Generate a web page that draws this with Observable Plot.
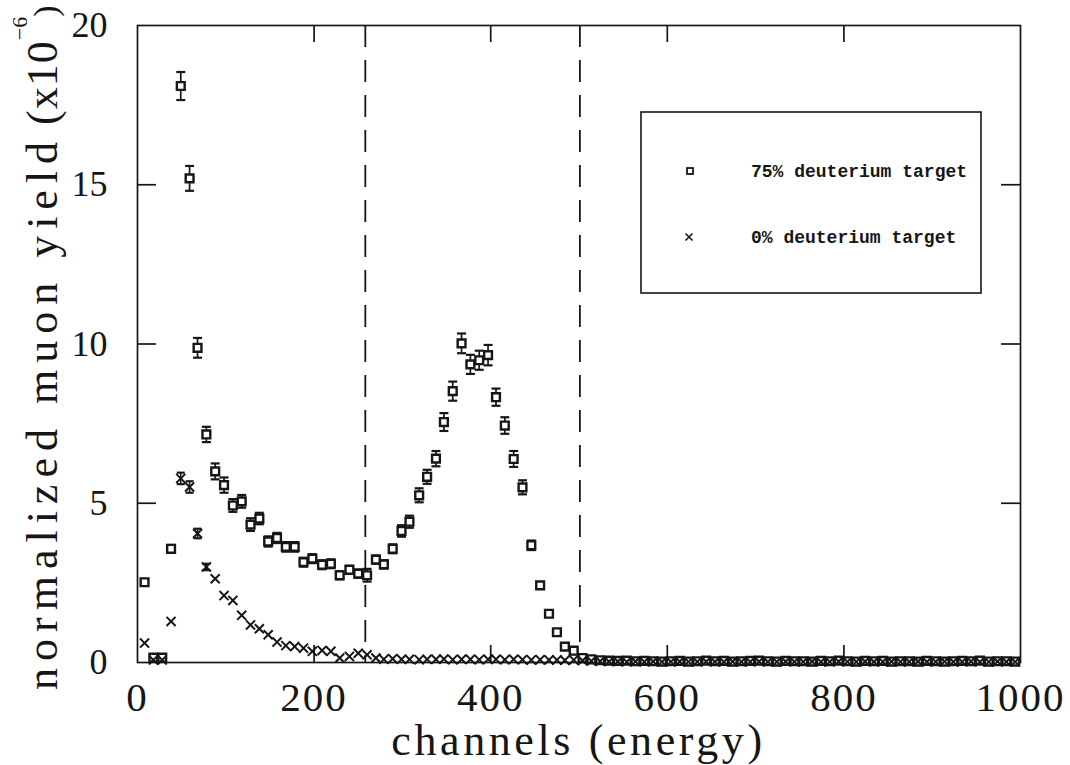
<!DOCTYPE html>
<html>
<head>
<meta charset="utf-8">
<script src="https://cdn.jsdelivr.net/npm/d3@7"></script>
<script src="https://cdn.jsdelivr.net/npm/@observablehq/plot@0.6"></script>
<style>
html, body { margin: 0; padding: 0; background: #fff; }
svg { display: block; }
</style>
</head>
<body>
<div id="chart"></div>
<script>
// ---- data ----
const channels = [
  8, 18, 28, 38, 49, 59, 68, 78, 88, 98,
  108, 118, 128, 138, 148, 158, 168, 178, 188, 198,
  209, 219, 229, 240, 250, 260, 270, 279, 289, 299,
  308, 319, 328, 338, 347, 357, 367, 377, 387, 397,
  406, 416, 426, 436, 446, 456, 466, 475, 484, 494,
  504, 514, 524, 534, 544, 554, 564, 574, 584, 594,
  604, 614, 624, 634, 644, 654, 664, 674, 684, 694,
  704, 714, 724, 734, 744, 754, 764, 774, 784, 794,
  804, 814, 824, 834, 844, 854, 864, 874, 884, 894,
  904, 914, 924, 934, 944, 954, 964, 974, 984, 994
];
const yield75 = [
  2.52, 0.15, 0.15, 3.57, 18.1, 15.2, 9.88, 7.16, 6.0, 5.57,
  4.93, 5.06, 4.33, 4.52, 3.8, 3.91, 3.63, 3.63, 3.15, 3.26,
  3.07, 3.1, 2.74, 2.91, 2.79, 2.74, 3.23, 3.08, 3.57, 4.13,
  4.42, 5.25, 5.83, 6.4, 7.55, 8.52, 10.02, 9.36, 9.49, 9.65,
  8.33, 7.44, 6.39, 5.5, 3.68, 2.42, 1.53, 0.95, 0.5, 0.37,
  0.14, 0.1, 0.07, 0.06, 0.05, 0.06, 0.04, 0.05, 0.04, 0.03,
  0.04, 0.05, 0.03, 0.04, 0.06, 0.04, 0.05, 0.03, 0.04, 0.05,
  0.06, 0.04, 0.03, 0.05, 0.04, 0.04, 0.03, 0.05, 0.04, 0.06,
  0.04, 0.03, 0.05, 0.04, 0.05, 0.03, 0.04, 0.04, 0.03, 0.05,
  0.04, 0.03, 0.04, 0.05, 0.04, 0.06, 0.03, 0.04, 0.04, 0.03
];
const err75 = [
  0.1, 0.05, 0.05, 0.12, 0.44, 0.39, 0.31, 0.24, 0.25, 0.24,
  0.2, 0.2, 0.2, 0.18, 0.16, 0.16, 0.15, 0.15, 0.14, 0.14,
  0.14, 0.14, 0.13, 0.13, 0.13, 0.2, 0.13, 0.13, 0.14, 0.18,
  0.19, 0.22, 0.22, 0.24, 0.28, 0.3, 0.31, 0.3, 0.3, 0.32,
  0.27, 0.26, 0.25, 0.22, 0.15, 0.1, 0.08, 0.06, 0.05, 0.05,
  0, 0, 0, 0, 0, 0, 0, 0, 0, 0,
  0, 0, 0, 0, 0, 0, 0, 0, 0, 0,
  0, 0, 0, 0, 0, 0, 0, 0, 0, 0,
  0, 0, 0, 0, 0, 0, 0, 0, 0, 0,
  0, 0, 0, 0, 0, 0, 0, 0, 0, 0
];
const yield0 = [
  0.61, 0.08, 0.08, 1.29, 5.78, 5.51, 4.05, 3.0, 2.63, 2.1,
  1.95, 1.48, 1.18, 1.06, 0.87, 0.64, 0.53, 0.5, 0.45, 0.35,
  0.38, 0.35, 0.14, 0.19, 0.29, 0.24, 0.14, 0.1, 0.12, 0.1,
  0.1, 0.09, 0.1, 0.1, 0.11, 0.09, 0.1, 0.1, 0.09, 0.1,
  0.1, 0.09, 0.1, 0.09, 0.08, 0.09, 0.08, 0.08, 0.07, 0.08,
  0.06, 0.05, 0.04, 0.03, 0.03, 0.02, 0.03, 0.02, 0.03, 0.02,
  0.02, 0.03, 0.02, 0.02, 0.03, 0.02, 0.02, 0.03, 0.02, 0.02,
  0.03, 0.02, 0.02, 0.03, 0.02, 0.02, 0.03, 0.02, 0.02, 0.03,
  0.02, 0.02, 0.03, 0.02, 0.02, 0.03, 0.02, 0.02, 0.03, 0.02,
  0.02, 0.03, 0.02, 0.02, 0.03, 0.02, 0.02, 0.03, 0.02, 0.02
];
const err0 = [
  0, 0, 0, 0, 0.18, 0.18, 0.15, 0.1, 0, 0,
  0, 0, 0, 0, 0, 0, 0, 0, 0, 0,
  0, 0, 0, 0, 0, 0, 0, 0, 0, 0,
  0, 0, 0, 0, 0, 0, 0, 0, 0, 0,
  0, 0, 0, 0, 0, 0, 0, 0, 0, 0,
  0, 0, 0, 0, 0, 0, 0, 0, 0, 0,
  0, 0, 0, 0, 0, 0, 0, 0, 0, 0,
  0, 0, 0, 0, 0, 0, 0, 0, 0, 0,
  0, 0, 0, 0, 0, 0, 0, 0, 0, 0,
  0, 0, 0, 0, 0, 0, 0, 0, 0, 0
];
const windowEdges = [258, 501];
const xTicks = [0, 200, 400, 600, 800, 1000];
const xInnerTicks = [200, 400, 600, 800];
const yTicks = [0, 5, 10, 15, 20];
const yInnerTicks = [5, 10, 15];
const seriesNames = ["75% deuterium target", "0% deuterium target"];
const xTitle = "channels (energy)";
const yTitle = "normalized muon yield";
const yUnitOpen = "(x10";
const yUnitExp = "\u22126";
const yUnitClose = ")";

// ---- build ----
const xDomain = [0, 1000], yDomain = [0, 20];
const W = 1070, H = 765, ML = 137, MR = 50, MT = 25, MB = 103;
const ink = "#161616";
const serif = "'Liberation Serif', 'Times New Roman', serif";
const mono = "'Liberation Mono', 'DejaVu Sans Mono', monospace";

const d75 = channels.map((x, i) => ({x, y: yield75[i], e: err75[i]}));
const d0 = channels.map((x, i) => ({x, y: yield0[i], e: err0[i]}));
const e75 = d75.filter(d => d.e > 0);
const e0 = d0.filter(d => d.e > 0);

// inward tick marks: lengths given in pixels, converted to data units
const xUnitsPerPx = (xDomain[1] - xDomain[0]) / (W - ML - MR);
const yUnitsPerPx = (yDomain[1] - yDomain[0]) / (H - MT - MB);
const tickPxX = 17, tickPxY = 19;
const xTickMarks = xInnerTicks.flatMap(x => [
  {x, a: yDomain[0], b: yDomain[0] + tickPxX * yUnitsPerPx},
  {x, a: yDomain[1], b: yDomain[1] - tickPxX * yUnitsPerPx}
]);
const yTickMarks = yInnerTicks.flatMap(y => [
  {y, a: xDomain[0], b: xDomain[0] + tickPxY * xUnitsPerPx},
  {y, a: xDomain[1], b: xDomain[1] - tickPxY * xUnitsPerPx}
]);

const cap = {draw(ctx, size) { const r = Math.sqrt(size / Math.PI); ctx.moveTo(-r, 0); ctx.lineTo(r, 0); }};

const chart = Plot.plot({
  width: W, height: H,
  marginLeft: ML, marginRight: MR, marginTop: MT, marginBottom: MB,
  x: {domain: xDomain},
  y: {domain: yDomain},
  style: {background: "#fff", color: ink, overflow: "visible"},
  marks: [
    Plot.ruleX(windowEdges, {stroke: ink, strokeWidth: 1.8, strokeDasharray: "22,13"}),
    Plot.ruleX(xTickMarks, {x: "x", y1: "a", y2: "b", stroke: ink, strokeWidth: 1.7}),
    Plot.ruleY(yTickMarks, {y: "y", x1: "a", x2: "b", stroke: ink, strokeWidth: 1.7}),
    Plot.axisX({anchor: "bottom", ticks: xTicks, tickSize: 0, tickPadding: 19, tickFormat: d => String(d), fontSize: 41, fontFamily: serif, label: null}),
    Plot.axisY({anchor: "left", ticks: yTicks, tickSize: 0, tickPadding: 30, tickFormat: d => String(d), fontSize: 36, fontFamily: serif, label: null}),
    Plot.frame({stroke: ink, strokeWidth: 1.7}),
    // 75% series: error bars + squares
    Plot.ruleX(e75, {x: "x", y1: d => d.y - d.e, y2: d => d.y + d.e, stroke: ink, strokeWidth: 1.7}),
    Plot.dot(e75, {x: "x", y: d => d.y + d.e, symbol: cap, r: 4.5, stroke: ink, strokeWidth: 2.2}),
    Plot.dot(e75, {x: "x", y: d => d.y - d.e, symbol: cap, r: 4.5, stroke: ink, strokeWidth: 2.2}),
    Plot.dot(d75, {x: "x", y: "y", symbol: "square", r: 4.4, fill: "#fff", stroke: ink, strokeWidth: 2.4}),
    // 0% series: error bars + crosses
    Plot.ruleX(e0, {x: "x", y1: d => d.y - d.e, y2: d => d.y + d.e, stroke: ink, strokeWidth: 1.5}),
    Plot.dot(e0, {x: "x", y: d => d.y + d.e, symbol: cap, r: 4, stroke: ink, strokeWidth: 2.2}),
    Plot.dot(e0, {x: "x", y: d => d.y - d.e, symbol: cap, r: 4, stroke: ink, strokeWidth: 2.2}),
    Plot.dot(d0, {x: "x", y: "y", symbol: "times", r: 4.2, stroke: ink, strokeWidth: 2})
  ]
});

document.getElementById("chart").appendChild(chart);

const svg = d3.select(chart);
svg.selectAll('g[aria-label="x-axis tick label"] text').attr("letter-spacing", 2);

// x title
svg.append("text")
  .attr("x", (ML + (W - MR)) / 2)
  .attr("y", 755)
  .attr("text-anchor", "middle")
  .attr("font-family", serif)
  .attr("font-size", 44)
  .attr("letter-spacing", 3.6)
  .attr("fill", ink)
  .text(xTitle);

// y title with superscript
const yt = svg.append("text")
  .attr("transform", "translate(57,690) rotate(-90)")
  .attr("text-anchor", "start")
  .attr("font-family", serif)
  .attr("font-size", 44)
  .attr("fill", ink);
yt.append("tspan").attr("letter-spacing", 7).text(yTitle);
yt.append("tspan").attr("dx", 10).attr("letter-spacing", 1).text(yUnitOpen);
yt.append("tspan").attr("dy", -30).attr("font-size", 22).attr("letter-spacing", 0).text(yUnitExp);
yt.append("tspan").attr("dy", 30).attr("font-size", 34).attr("letter-spacing", 0).text(yUnitClose);

// legend
const lg = svg.append("g");
lg.append("rect").attr("x", 641).attr("y", 112).attr("width", 340).attr("height", 181)
  .attr("fill", "#fff").attr("stroke", ink).attr("stroke-width", 1.6);
const rows = [171, 237];
lg.append("rect").attr("x", 687).attr("y", rows[0] - 3).attr("width", 6).attr("height", 6)
  .attr("fill", "#fff").attr("stroke", ink).attr("stroke-width", 1.8);
lg.append("path").attr("transform", `translate(689,${rows[1]})`)
  .attr("d", "M-3.5,-3.5L3.5,3.5M-3.5,3.5L3.5,-3.5")
  .attr("stroke", ink).attr("stroke-width", 1.6);
seriesNames.forEach((name, i) => {
  lg.append("text").attr("x", 751).attr("y", rows[i]).attr("dy", "0.35em")
    .attr("text-anchor", "start")
    .attr("font-family", mono).attr("font-weight", "bold").attr("font-size", 18)
    .attr("fill", ink).text(name);
});
</script>
</body>
</html>
